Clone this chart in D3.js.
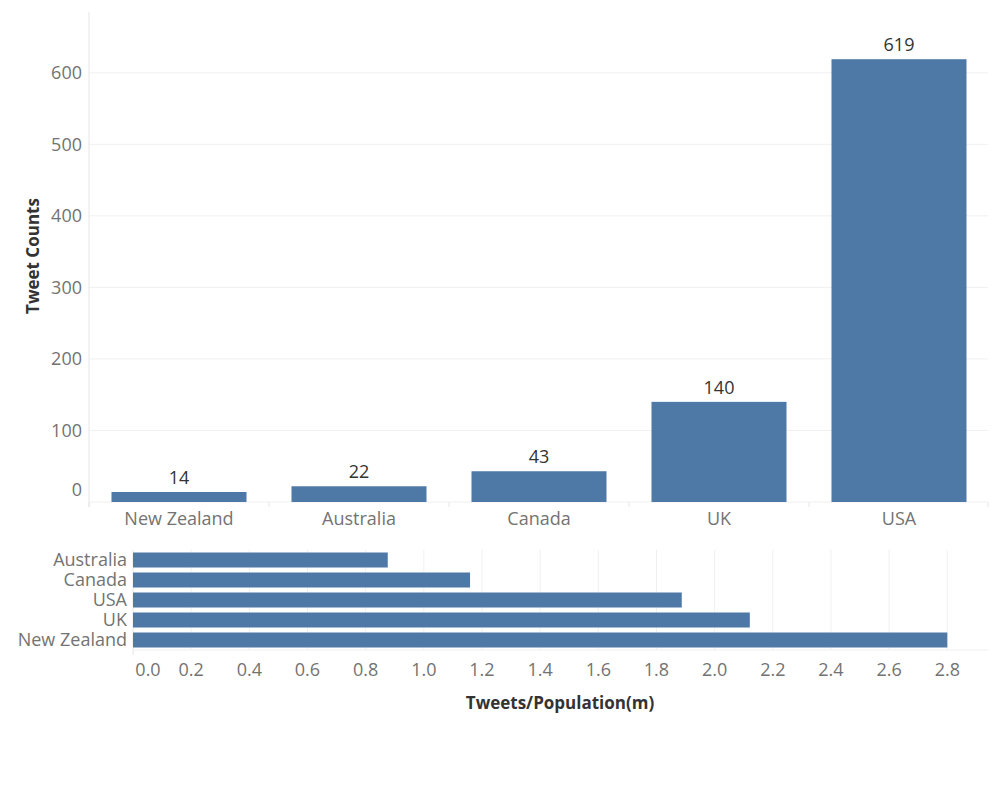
<!DOCTYPE html>
<html>
<head>
<meta charset="utf-8">
<script src="https://cdn.jsdelivr.net/npm/d3@7"></script>
<style>
  body { margin: 0; background: #fff; }
  svg { font-family: "Open Sans", sans-serif; }
  .tick-label { fill: #737373; font-size: 18px; }
  .value-label { fill: #333; font-size: 18px; }
  .axis-title { fill: #333; font-size: 17px; font-weight: bold; }
</style>
</head>
<body>
<svg id="chart" width="1000" height="800"></svg>
<script>
// tweet counts per country
const countries = ['New Zealand', 'Australia', 'Canada', 'UK', 'USA'];
const tweetCounts = [14, 22, 43, 140, 619];
const countTicks = [0, 100, 200, 300, 400, 500, 600];

// tweets per million population
const rateCountries = ['Australia', 'Canada', 'USA', 'UK', 'New Zealand'];
const tweetRates = [0.876, 1.159, 1.887, 2.121, 2.8];
const rateTicks = [0, 0.2, 0.4, 0.6, 0.8, 1.0, 1.2, 1.4, 1.6, 1.8, 2.0, 2.2, 2.4, 2.6, 2.8];

const barColor = '#4e79a7';
const gridColor = '#f0f0f0';
const axisColor = '#e6e6e6';

const svg = d3.select('#chart');

// ---- top chart: vertical bars ----
const x = d3.scaleBand().domain(countries).range([89, 989]).paddingInner(0.25).paddingOuter(0.125);
const y = d3.scaleLinear().domain([0, 685]).range([502, 12]);

const countsG = svg.append('g');

countsG.selectAll('.grid-y').data(countTicks).join('line')
    .attr('x1', 89).attr('x2', 988)
    .attr('y1', d => y(d)).attr('y2', d => y(d))
    .attr('stroke', gridColor);

countsG.append('line')
    .attr('x1', 89).attr('x2', 89).attr('y1', 12).attr('y2', 507)
    .attr('stroke', axisColor);

// separators between categories
const edges = countries.map(c => x(c) - x.step() * x.paddingInner() / 2).concat([988]);
countsG.selectAll('.sep').data(edges).join('line')
    .attr('x1', d => d).attr('x2', d => d)
    .attr('y1', y(0)).attr('y2', y(0) + 5)
    .attr('stroke', axisColor);

countsG.selectAll('.ytick').data(countTicks).join('text')
    .attr('class', 'tick-label')
    .attr('x', 82)
    .attr('y', d => d === 0 ? y(d) - 12 : y(d))
    .attr('dy', '0.35em')
    .attr('text-anchor', 'end')
    .text(d => d);

countsG.selectAll('.bar').data(tweetCounts).join('rect')
    .attr('x', (d, i) => x(countries[i]))
    .attr('width', x.bandwidth())
    .attr('y', d => y(d))
    .attr('height', d => y(0) - y(d))
    .attr('fill', barColor);

countsG.selectAll('.vlabel').data(tweetCounts).join('text')
    .attr('class', 'value-label')
    .attr('x', (d, i) => x(countries[i]) + x.bandwidth() / 2)
    .attr('y', d => y(d) - 8)
    .attr('text-anchor', 'middle')
    .text(d => d);

countsG.selectAll('.xlabel').data(countries).join('text')
    .attr('class', 'tick-label')
    .attr('x', d => x(d) + x.bandwidth() / 2)
    .attr('y', 519)
    .attr('dy', '0.35em')
    .attr('text-anchor', 'middle')
    .text(d => d);

countsG.append('text')
    .attr('class', 'axis-title')
    .attr('transform', 'translate(39,256) rotate(-90)')
    .attr('text-anchor', 'middle')
    .text('Tweet Counts');

// ---- bottom chart: horizontal bars ----
const x2 = d3.scaleLinear().domain([0, 2.94]).range([133, 988]);
const y2 = d3.scaleBand().domain(rateCountries).range([550, 650]).paddingInner(0.25).paddingOuter(0.125);

const ratesG = svg.append('g');

ratesG.selectAll('.grid-x').data(rateTicks).join('line')
    .attr('x1', d => x2(d)).attr('x2', d => x2(d))
    .attr('y1', 550).attr('y2', d => d === 0 ? 655 : 650)
    .attr('stroke', d => d === 0 ? axisColor : gridColor);

ratesG.append('line')
    .attr('x1', 133).attr('x2', 988).attr('y1', 650).attr('y2', 650)
    .attr('stroke', gridColor);

ratesG.selectAll('.hbar').data(tweetRates).join('rect')
    .attr('x', x2(0))
    .attr('y', (d, i) => y2(rateCountries[i]))
    .attr('width', d => x2(d) - x2(0))
    .attr('height', y2.bandwidth())
    .attr('fill', barColor);

ratesG.selectAll('.ylabel').data(rateCountries).join('text')
    .attr('class', 'tick-label')
    .attr('x', 127)
    .attr('y', d => y2(d) + y2.bandwidth() / 2)
    .attr('dy', '0.35em')
    .attr('text-anchor', 'end')
    .text(d => d);

ratesG.selectAll('.xtick').data(rateTicks).join('text')
    .attr('class', 'tick-label')
    .attr('x', d => d === 0 ? x2(d) + 15 : x2(d))
    .attr('y', 670)
    .attr('dy', '0.35em')
    .attr('text-anchor', 'middle')
    .text(d => d3.format('.1f')(d));

ratesG.append('text')
    .attr('class', 'axis-title')
    .attr('x', 560)
    .attr('y', 703)
    .attr('dy', '0.35em')
    .attr('text-anchor', 'middle')
    .text('Tweets/Population(m)');
</script>
</body>
</html>
